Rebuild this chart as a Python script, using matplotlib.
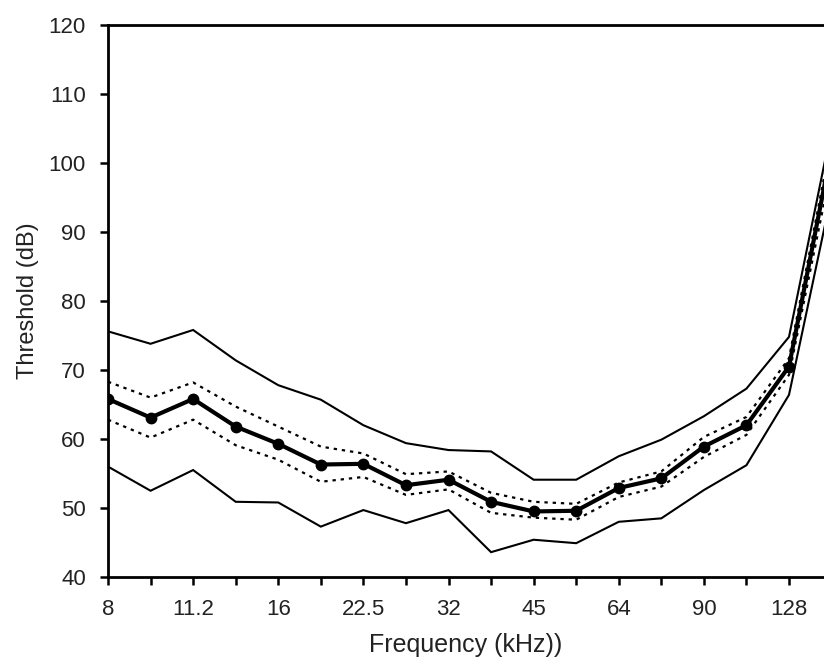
import matplotlib
matplotlib.use("Agg")
import matplotlib.pyplot as plt
import numpy as np

plt.rcParams['font.family'] = ['Liberation Sans', 'DejaVu Sans']

# Frequencies (kHz), quarter-octave steps
freqs = [8, 9.5, 11.2, 13.5, 16, 19, 22.5, 27, 32, 38, 45, 54, 64, 76, 90, 108, 128, 152]
tick_labels = ["8", "", "11.2", "", "16", "", "22.5", "", "32", "", "45", "", "64", "", "90", "", "128", ""]

mean_thr  = [65.8, 63.1, 65.8, 61.8, 59.3, 56.3, 56.4, 53.3, 54.1, 50.9, 49.5, 49.6, 52.9, 54.3, 58.9, 62.0, 70.5, 102.0]
upper_dot = [68.3, 66.0, 68.2, 64.7, 61.8, 58.9, 57.9, 54.9, 55.3, 52.2, 50.9, 50.6, 53.7, 55.3, 60.3, 63.2, 71.7, 103.5]
lower_dot = [62.8, 60.2, 62.8, 59.1, 57.0, 53.8, 54.5, 51.9, 52.7, 49.3, 48.6, 48.3, 51.6, 53.1, 57.4, 60.6, 69.3, 99.5]
upper_sol = [75.6, 73.8, 75.8, 71.4, 67.8, 65.7, 62.0, 59.4, 58.4, 58.2, 54.1, 54.1, 57.5, 59.9, 63.3, 67.3, 74.8, 105.0]
lower_sol = [56.0, 52.5, 55.5, 50.9, 50.8, 47.3, 49.7, 47.8, 49.7, 43.6, 45.4, 44.9, 48.0, 48.5, 52.6, 56.2, 66.4, 95.5]

W, H = 824, 668
fig = plt.figure(figsize=(W / 100, H / 100), dpi=100)
ax = fig.add_axes([108 / W, (H - 577) / H, (W - 108) / W, 552 / H])

x = np.arange(len(freqs))
ax.plot(x, upper_sol, color='black', lw=1.5, solid_joinstyle='miter')
ax.plot(x, lower_sol, color='black', lw=1.5, solid_joinstyle='miter')
ax.plot(x, upper_dot, color='black', lw=1.6, linestyle=(0, (1.5, 2.2)))
ax.plot(x, lower_dot, color='black', lw=1.6, linestyle=(0, (1.5, 2.2)))
ax.plot(x, mean_thr, color='black', lw=3.0, marker='o', markersize=7.5,
        markevery=slice(0, len(freqs) - 1))

ax.set_xticks(x)
ax.set_xticklabels(tick_labels)
ax.set_yticks(np.arange(40, 121, 10))

step_px = (789 - 108) / 16
ax.set_xlim(0, (W - 108) / step_px)
ax.set_ylim(40, 120)

ax.spines['right'].set_visible(False)
for s in ['left', 'top', 'bottom']:
    ax.spines[s].set_linewidth(2.0)

ax.tick_params(axis='both', direction='out', length=6, width=1.8, labelsize=16,
               labelcolor='#222222')
ax.tick_params(axis='x', pad=10)
ax.tick_params(axis='y', pad=10)

ax.set_xlabel('Frequency (kHz))', fontsize=18, color='#222222', labelpad=9)
ax.set_ylabel('Threshold (dB)', fontsize=17, color='#222222', labelpad=7)

fig.savefig('out.png', dpi=100)
